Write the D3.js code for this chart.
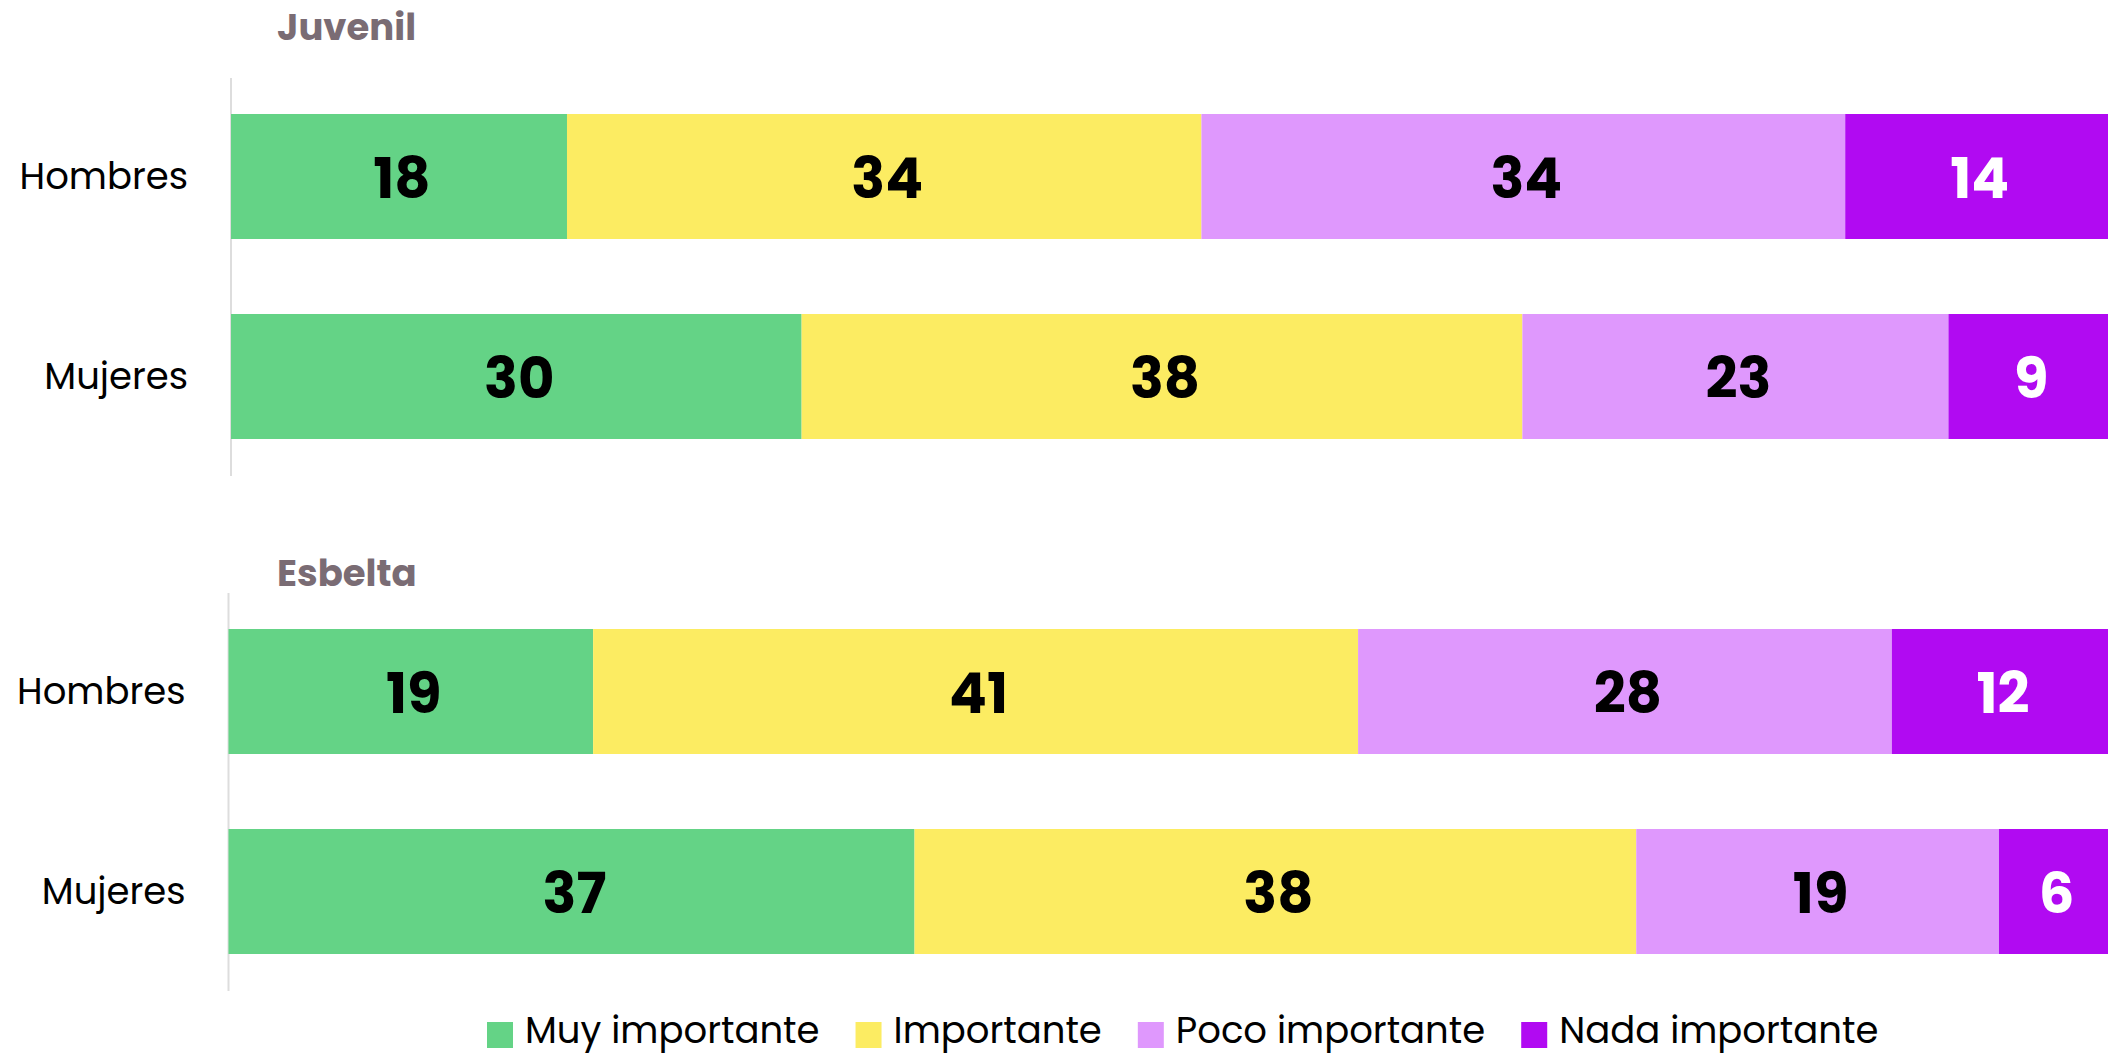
<!DOCTYPE html>
<html>
<head>
<meta charset="utf-8">
<script src="https://cdn.jsdelivr.net/npm/d3@7"></script>
<style>
  html, body { margin: 0; padding: 0; background: #ffffff; }
  svg { display: block; }
  text { font-family: "Poppins", "Inter", "Open Sans", sans-serif; }
</style>
</head>
<body>
<svg id="chart" width="2108" height="1055"></svg>
<script>
// ---------------- data ----------------
const panels = ["Juvenil", "Esbelta"];
const categories = ["Hombres", "Mujeres"];
const seriesNames = ["Muy importante", "Importante", "Poco importante", "Nada importante"];
const seriesColors = ["#64d386", "#fcec62", "#df98fd", "#b10af2"];
const labelColors = ["#000000", "#000000", "#000000", "#ffffff"];

// values per row, in series order (percent)
const juvenilHombres = [17.9, 33.8, 34.3, 14.0];
const juvenilMujeres = [30.4, 38.4, 22.7, 8.5];
const esbeltaHombres = [19.4, 40.7, 28.4, 11.5];
const esbeltaMujeres = [36.5, 38.4, 19.3, 5.8];

const panelRows = [
  [juvenilHombres, juvenilMujeres],
  [esbeltaHombres, esbeltaMujeres]
];

// ---------------- layout ----------------
const W = 2108;
const panelLayout = [
  { left: 231,   top: 76.5,  bottom: 476.5, titleY: 40 },
  { left: 228.5, top: 591.5, bottom: 991.5, titleY: 586 }
];

const svg = d3.select("#chart");

panels.forEach((pname, pi) => {
  const L = panelLayout[pi];
  const rows = categories.map((c, ci) => {
    const o = { category: c };
    seriesNames.forEach((s, si) => { o[s] = panelRows[pi][ci][si]; });
    return o;
  });

  const x = d3.scaleLinear().domain([0, 100]).range([L.left, W]);
  const y = d3.scaleBand().domain(categories).range([L.top, L.bottom])
    .paddingInner(0.375).paddingOuter(0.1875);

  const stack = d3.stack().keys(seriesNames);
  const stacked = stack(rows);

  const g = svg.append("g");

  // title
  g.append("text")
    .attr("x", 277).attr("y", L.titleY)
    .attr("fill", "#7a6c74")
    .attr("font-size", 37)
    .attr("font-weight", 700)
    .text(pname);

  // bars
  const layers = g.selectAll("g.layer").data(stacked).join("g")
    .attr("class", "layer")
    .attr("fill", (d, i) => seriesColors[i]);

  layers.selectAll("rect").data(d => d.map(v => ({ v, key: d.key, index: d.index })))
    .join("rect")
    .attr("x", d => x(d.v[0]))
    .attr("y", d => y(d.v.data.category))
    .attr("width", d => x(d.v[1]) - x(d.v[0]))
    .attr("height", y.bandwidth());

  // value labels
  layers.selectAll("text").data(d => d.map(v => ({ v, key: d.key, index: d.index })))
    .join("text")
    .attr("x", d => (x(d.v[0]) + x(d.v[1])) / 2 + 3)
    .attr("y", d => y(d.v.data.category) + y.bandwidth() / 2)
    .attr("dy", "0.39em")
    .attr("text-anchor", "middle")
    .attr("font-size", 56)
    .attr("font-weight", 700)
    .attr("fill", d => labelColors[d.index])
    .text(d => Math.round(d.v[1] - d.v[0]));

  // y axis (line + category labels)
  const yAxis = d3.axisLeft(y).tickSize(0).tickPadding(43);
  const ax = g.append("g").attr("transform", `translate(${L.left},0)`).call(yAxis);
  ax.select(".domain").attr("stroke", "#dddddd").attr("stroke-width", 2)
    .attr("d", `M0,${L.top + 1.5}V${L.bottom - 0.5}`);
  ax.selectAll(".tick text")
    .attr("font-size", 37)
    .attr("font-family", "\"Poppins\", \"Inter\", \"Open Sans\", sans-serif")
    .attr("fill", "#000")
    .attr("dy", "0.34em");
  // keep axis line behind bars
  ax.lower();
});

// ---------------- legend ----------------
const legend = svg.append("g");
const legendY = 1022;
const sw = 26;
let lx = 487;
seriesNames.forEach((s, i) => {
  const item = legend.append("g");
  item.append("rect").attr("x", lx).attr("y", legendY).attr("width", sw).attr("height", sw)
    .attr("fill", seriesColors[i]);
  const t = item.append("text").attr("x", lx + sw + 12).attr("y", 1043)
    .attr("font-size", 37)
    .attr("fill", "#000")
    .text(s);
  lx += sw + 12 + t.node().getComputedTextLength() + 36;
});
</script>
</body>
</html>
